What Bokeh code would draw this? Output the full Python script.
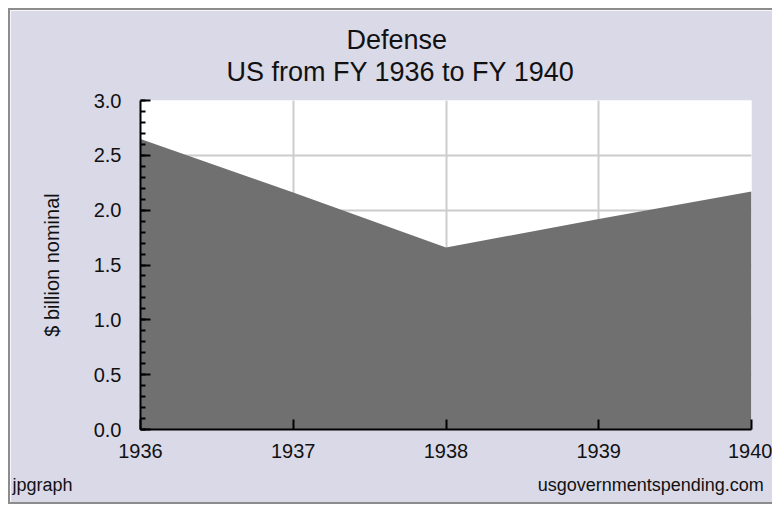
from bokeh.plotting import figure
from bokeh.models import (ColumnDataSource, SingleIntervalTicker, FixedTicker,
                          NumeralTickFormatter, Title, Range1d)
from bokeh.embed import file_html
from bokeh.resources import INLINE

years = [1936, 1937, 1938, 1939, 1940]
defense = [2.65, 2.16, 1.66, 1.92, 2.17]
title_main = "Defense"
title_sub = "US from FY 1936 to FY 1940"
y_label = "$ billion nominal"
footer_left = "jpgraph"
footer_right = "usgovernmentspending.com"

BG = "#d9d9e8"
FONT = "Liberation Sans"
TXT = "#111111"

src = ColumnDataSource(data=dict(x=years, y=defense))

p = figure(width=764, height=496, output_backend="svg", toolbar_location=None,
           x_range=Range1d(years[0], years[-1]), y_range=Range1d(0, 3.0),
           min_border_left=130, min_border_right=23, min_border_top=89,
           min_border_bottom=77)
p.styles = {"margin-left": "8px", "margin-top": "8px",
            "border-left": "2px solid #8c8c8c", "border-top": "2px solid #8c8c8c",
            "border-bottom": "2px solid #8c8c8c"}
p.background_fill_color = "white"
p.border_fill_color = BG
p.outline_line_color = None

p.varea(x="x", y1=0, y2="y", source=src, fill_color="#707070", fill_alpha=1)

# axes
p.xaxis.ticker = FixedTicker(ticks=years)
p.yaxis.ticker = SingleIntervalTicker(interval=0.5, num_minor_ticks=5)
p.yaxis.formatter = NumeralTickFormatter(format="0.0")
for ax in (p.xaxis[0], p.yaxis[0]):
    ax.axis_line_color = "black"
    ax.axis_line_width = 2
    ax.major_tick_line_color = "black"
    ax.major_tick_line_width = 2
    ax.major_tick_in = 10
    ax.major_tick_out = 0
    ax.minor_tick_line_color = "black"
    ax.minor_tick_line_width = 2
    ax.minor_tick_in = 5
    ax.minor_tick_out = 0
    ax.major_label_text_font = FONT
    ax.major_label_text_font_size = "20px"
    ax.major_label_text_color = TXT
p.xaxis.minor_tick_line_color = None
p.xaxis.major_label_standoff = 14
p.yaxis.major_label_standoff = 19
p.yaxis.axis_label = y_label
p.yaxis.axis_label_text_font = FONT
p.yaxis.axis_label_text_font_size = "20px"
p.yaxis.axis_label_text_font_style = "normal"
p.yaxis.axis_label_text_color = TXT
p.yaxis.axis_label_standoff = 28

p.xgrid.grid_line_color = "#cccccc"
p.ygrid.grid_line_color = "#cccccc"
p.xgrid.grid_line_width = 2
p.ygrid.grid_line_width = 2

# two-line title above the frame; the first line is padded so both lines
# share one centre
p.title.visible = False
pad = "\u00a0" * 16
p.add_layout(Title(text=pad + title_main + "\n" + title_sub, align="left", offset=86,
                   text_font=FONT, text_font_size="27px", text_font_style="normal",
                   text_line_height=1.07, text_color=TXT, standoff=26), "above")

# footer line: left and right credits on one row
gap = "\u00a0" * 93
p.add_layout(Title(text=footer_left + gap + footer_right, align="left", offset=-128,
                   text_font=FONT, text_font_size="18px", text_font_style="normal",
                   text_color=TXT, standoff=24), "below")

open("out.html", "w").write(file_html(p, INLINE))
